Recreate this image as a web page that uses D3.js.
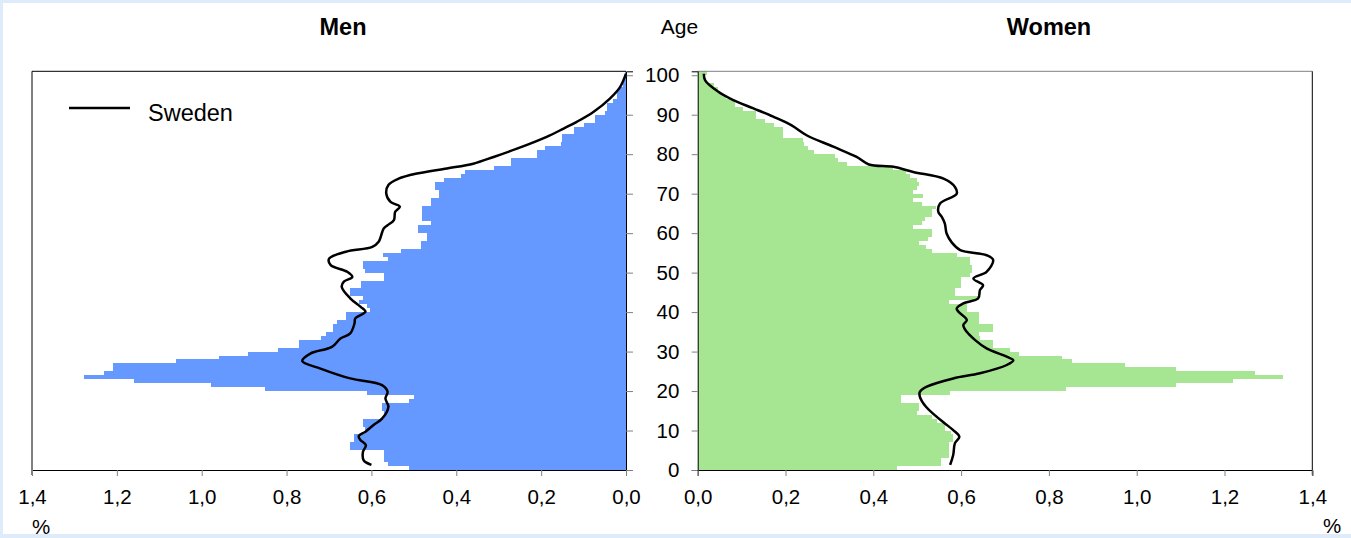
<!DOCTYPE html>
<html>
<head>
<meta charset="utf-8">
<script src="https://cdn.jsdelivr.net/npm/d3@7"></script>
<style>
  html, body { margin: 0; padding: 0; background: #deebfb; }
  svg { display: block; font-family: "Liberation Sans", Arial, sans-serif; }
  .axis .domain { stroke: #000; }
  .axis .tick line { stroke: #808080; }
  .axis text { font-size: 20.5px; fill: #000; font-family: "Liberation Sans", Arial, sans-serif; }
</style>
</head>
<body>
<div id="chart"></div>
<script>
// Share of population by single year of age (0..100), in %
const AGES = d3.range(0, 101);

const MEN = [
  0.512, 0.56, 0.571, 0.571, 0.571, 0.651, 0.651, 0.642, 0.642, 0.615,
  0.615, 0.62, 0.62, 0.571, 0.571, 0.575, 0.575, 0.512, 0.50, 0.61,
  0.85, 0.979, 1.159, 1.278, 1.23, 1.21, 1.21, 1.061, 0.959, 0.891,
  0.82, 0.771, 0.771, 0.72, 0.708, 0.69, 0.69, 0.68, 0.66, 0.66,
  0.603, 0.61, 0.63, 0.62, 0.651, 0.651, 0.625, 0.625, 0.571, 0.571,
  0.615, 0.62, 0.62, 0.56, 0.573, 0.53, 0.482, 0.482, 0.47, 0.47,
  0.49, 0.49, 0.46, 0.48, 0.48, 0.48, 0.48, 0.46, 0.46, 0.44,
  0.44, 0.45, 0.45, 0.43, 0.39, 0.38, 0.31, 0.27, 0.27, 0.21,
  0.21, 0.19, 0.153, 0.151, 0.151, 0.122, 0.122, 0.10, 0.073, 0.073,
  0.05, 0.045, 0.045, 0.03, 0.022, 0.022, 0.016, 0.008, 0.008, 0.004,
  0.003,
];

const WOMEN = [
  0.453, 0.554, 0.554, 0.573, 0.573, 0.573, 0.573, 0.582, 0.582, 0.578,
  0.563, 0.563, 0.544, 0.533, 0.50, 0.503, 0.503, 0.463, 0.463, 0.575,
  0.84, 1.09, 1.22, 1.333, 1.27, 1.09, 0.973, 0.852, 0.83, 0.733,
  0.711, 0.672, 0.672, 0.643, 0.64, 0.672, 0.672, 0.64, 0.64, 0.64,
  0.613, 0.613, 0.573, 0.64, 0.586, 0.586, 0.60, 0.60, 0.60, 0.62,
  0.624, 0.624, 0.62, 0.62, 0.59, 0.533, 0.52, 0.503, 0.525, 0.533,
  0.533, 0.49, 0.51, 0.518, 0.533, 0.533, 0.543, 0.51, 0.49, 0.513,
  0.49, 0.50, 0.503, 0.50, 0.484, 0.474, 0.446, 0.34, 0.32, 0.313,
  0.264, 0.252, 0.242, 0.24, 0.194, 0.194, 0.194, 0.174, 0.153, 0.133,
  0.133, 0.104, 0.085, 0.085, 0.065, 0.05, 0.047, 0.036, 0.02, 0.015,
  0.022,
];

// Sweden reference curves: [age, %]
const SWEDEN_MEN = [
  [1.3, 0.60], [2.4, 0.618], [4.6, 0.62], [6.3, 0.613], [7.6, 0.626], [8.6, 0.63],
  [9.7, 0.614], [11.4, 0.595], [13, 0.575], [16, 0.56], [18.1, 0.567], [19.8, 0.562],
  [21.5, 0.575], [23.2, 0.65], [25.7, 0.72], [27.6, 0.763], [29.5, 0.744], [31.2, 0.693],
  [33.3, 0.673], [34.6, 0.65], [37.1, 0.64], [38.4, 0.638], [40.1, 0.614], [41.4, 0.626],
  [43.5, 0.65], [46.4, 0.67], [47.7, 0.665], [48.9, 0.645], [50.2, 0.657], [51.9, 0.696],
  [53.5, 0.70], [55.3, 0.66], [56.5, 0.598], [57.8, 0.583], [61.2, 0.571], [62, 0.562],
  [63.3, 0.547], [65.4, 0.544], [66.7, 0.533], [67.9, 0.555], [70, 0.565], [72.2, 0.56],
  [73.8, 0.536], [75.1, 0.493], [76.4, 0.422], [77.6, 0.36], [79.3, 0.312], [81.4, 0.257],
  [84.4, 0.187], [86.5, 0.147], [88.2, 0.116], [90.7, 0.077], [94.1, 0.038], [97, 0.014],
  [100.4, 0.0],
];

const SWEDEN_WOMEN = [
  [1.3, 0.575], [3.8, 0.582], [6.8, 0.586], [8.4, 0.596], [10.1, 0.582], [11.8, 0.563],
  [13.9, 0.54], [16, 0.52], [18.6, 0.506], [19.8, 0.506], [21.1, 0.522], [23.2, 0.582],
  [24.5, 0.643], [26.6, 0.704], [27.8, 0.719], [28.7, 0.704], [30.8, 0.658], [32.9, 0.632],
  [35, 0.613], [36.7, 0.605], [38, 0.613], [40.1, 0.594], [40.9, 0.59], [42.2, 0.605],
  [43.5, 0.639], [45.6, 0.643], [46.8, 0.65], [48.5, 0.628], [50.2, 0.658], [53.2, 0.673],
  [54.4, 0.658], [55.7, 0.598], [57.6, 0.579], [59.9, 0.567], [62.4, 0.563], [64.1, 0.556],
  [65.4, 0.548], [67.5, 0.552], [70, 0.59], [71.7, 0.586], [73.8, 0.56], [75.5, 0.491],
  [76.8, 0.446], [77.4, 0.39], [79.3, 0.362], [81.9, 0.309], [84.8, 0.248], [87.3, 0.214],
  [89.5, 0.172], [91.6, 0.127], [93.7, 0.081], [95.8, 0.047], [98.7, 0.017], [100.4, 0.014],
];

const X_TICKS = [0, 0.2, 0.4, 0.6, 0.8, 1.0, 1.2, 1.4];
const AGE_TICKS = d3.range(0, 101, 10);

const COLORS = {
  men: "#6699ff",
  women: "#a6e592",
  sweden: "#000",
  border: "#deebfb",
};

const WIDTH = 1351;
const HEIGHT = 538;
const PLOT = { top: 71.3, bottom: 470 };
const MEN_X = { zero: 626, max: 32 };
const WOMEN_X = { zero: 697.7, max: 1312.3 };

const fmt = (v) => d3.format(".1f")(v).replace(".", ",");

const svg = d3.select("#chart")
  .append("svg")
  .attr("width", WIDTH)
  .attr("height", HEIGHT);

// —— Background ——
svg.append("rect").attr("width", WIDTH).attr("height", HEIGHT).attr("fill", COLORS.border);
svg.append("rect").attr("x", 3).attr("y", 3).attr("width", WIDTH - 3).attr("height", 531).attr("fill", "#fff");

// —— Scales ——
const y = d3.scaleLinear().domain([0, 101]).range([PLOT.bottom, PLOT.top]);
const xMen = d3.scaleLinear().domain([0, 1.4]).range([MEN_X.zero, MEN_X.max]);
const xWomen = d3.scaleLinear().domain([0, 1.4]).range([WOMEN_X.zero, WOMEN_X.max]);

// —— Bars (one per year of age) ——
svg.append("g")
  .attr("shape-rendering", "crispEdges")
  .selectAll("rect")
  .data(AGES)
  .join("rect")
  .attr("x", (a) => xMen(MEN[a]))
  .attr("width", (a) => xMen(0) - xMen(MEN[a]))
  .attr("y", (a) => y(a + 1))
  .attr("height", (a) => y(a) - y(a + 1))
  .attr("fill", COLORS.men);

svg.append("g")
  .attr("shape-rendering", "crispEdges")
  .selectAll("rect")
  .data(AGES)
  .join("rect")
  .attr("x", xWomen(0))
  .attr("width", (a) => xWomen(WOMEN[a]) - xWomen(0))
  .attr("y", (a) => y(a + 1))
  .attr("height", (a) => y(a) - y(a + 1))
  .attr("fill", COLORS.women);

// —— Frames ——
svg.append("line")
  .attr("x1", MEN_X.max).attr("x2", MEN_X.zero)
  .attr("y1", PLOT.top).attr("y2", PLOT.top)
  .attr("stroke", "#000");
svg.append("line")
  .attr("x1", MEN_X.max).attr("x2", MEN_X.max)
  .attr("y1", PLOT.top).attr("y2", PLOT.bottom + 5)
  .attr("stroke", "#000");
svg.append("line")
  .attr("x1", WOMEN_X.zero).attr("x2", WOMEN_X.max)
  .attr("y1", PLOT.top).attr("y2", PLOT.top)
  .attr("stroke", "#808080");
svg.append("line")
  .attr("x1", WOMEN_X.max).attr("x2", WOMEN_X.max)
  .attr("y1", PLOT.top).attr("y2", PLOT.bottom + 5)
  .attr("stroke", "#000");

// —— Axes ——
svg.append("g")
  .attr("class", "axis")
  .attr("transform", `translate(0,${PLOT.bottom})`)
  .call(d3.axisBottom(xMen).tickValues(X_TICKS).tickFormat(fmt).tickSize(6).tickPadding(13));

svg.append("g")
  .attr("class", "axis")
  .attr("transform", `translate(0,${PLOT.bottom})`)
  .call(d3.axisBottom(xWomen).tickValues(X_TICKS).tickFormat(fmt).tickSize(6).tickPadding(13));

const menAgeAxis = svg.append("g")
  .attr("class", "axis")
  .attr("transform", `translate(${MEN_X.zero},0)`)
  .call(d3.axisRight(y).tickValues(AGE_TICKS).tickFormat("").tickSize(7));
menAgeAxis.select(".domain").attr("stroke", "#808080");

const womenAgeAxis = svg.append("g")
  .attr("class", "axis")
  .attr("transform", `translate(${WOMEN_X.zero},0)`)
  .call(d3.axisLeft(y).tickValues(AGE_TICKS).tickSize(6).tickPadding(12.4));
womenAgeAxis.select(".domain").attr("stroke", "#6d7f6d");

// —— Sweden lines ——
const lineMen = d3.line()
  .x((d) => xMen(d[1]))
  .y((d) => y(d[0]))
  .curve(d3.curveCatmullRom.alpha(0.5));

const lineWomen = d3.line()
  .x((d) => xWomen(d[1]))
  .y((d) => y(d[0]))
  .curve(d3.curveCatmullRom.alpha(0.5));

svg.append("path")
  .datum(SWEDEN_MEN)
  .attr("fill", "none")
  .attr("stroke", COLORS.sweden)
  .attr("stroke-width", 2.5)
  .attr("stroke-linejoin", "round")
  .attr("d", lineMen);

svg.append("path")
  .datum(SWEDEN_WOMEN)
  .attr("fill", "none")
  .attr("stroke", COLORS.sweden)
  .attr("stroke-width", 2.5)
  .attr("stroke-linejoin", "round")
  .attr("d", lineWomen);

// —— Titles ——
svg.append("text")
  .attr("x", 343).attr("y", 35)
  .attr("text-anchor", "middle")
  .attr("font-size", 23.5).attr("font-weight", "bold")
  .text("Men");

svg.append("text")
  .attr("x", 1049).attr("y", 35)
  .attr("text-anchor", "middle")
  .attr("font-size", 23.5).attr("font-weight", "bold")
  .text("Women");

svg.append("text")
  .attr("x", 679.5).attr("y", 34)
  .attr("text-anchor", "middle")
  .attr("font-size", 21)
  .text("Age");

svg.append("text")
  .attr("x", 41).attr("y", 534)
  .attr("text-anchor", "middle")
  .attr("font-size", 20.5)
  .text("%");

svg.append("text")
  .attr("x", 1332).attr("y", 533)
  .attr("text-anchor", "middle")
  .attr("font-size", 20.5)
  .text("%");

// —— Legend ——
svg.append("line")
  .attr("x1", 69).attr("x2", 130)
  .attr("y1", 108).attr("y2", 108)
  .attr("stroke", COLORS.sweden)
  .attr("stroke-width", 2.5);

svg.append("text")
  .attr("x", 148).attr("y", 121)
  .attr("font-size", 23.5)
  .text("Sweden");
</script>
</body>
</html>
